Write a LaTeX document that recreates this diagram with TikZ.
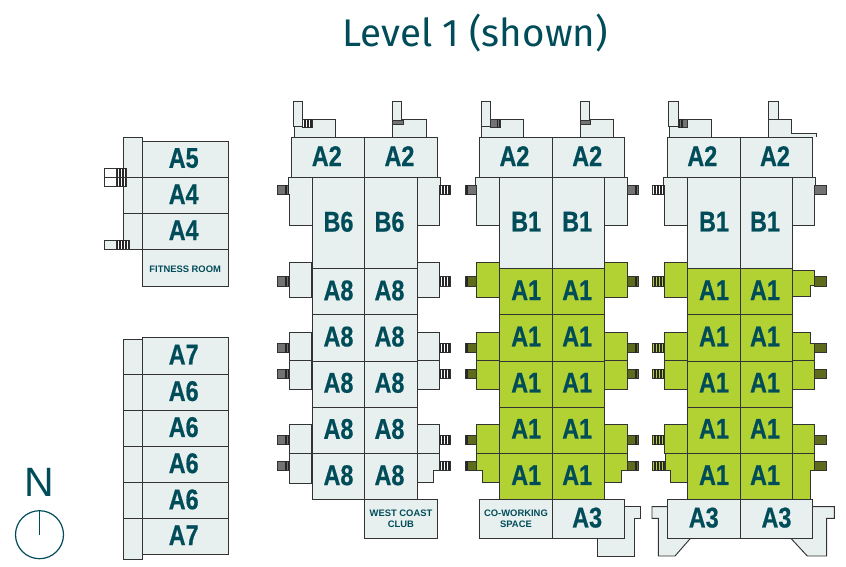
\documentclass[tikz,border=0pt]{standalone}
\usepackage{fontspec}
\setmainfont{Fira Sans}
\newfontfamily\cellfont[FakeStretch=0.82,BoldFeatures={FakeBold=0.6}]{Liberation Sans}
\newfontfamily\smallfont{Liberation Sans}
\definecolor{roomfill}{HTML}{E8F0EF}
\definecolor{suitefill}{HTML}{B2D234}
\definecolor{olive}{HTML}{5F6B1C}
\definecolor{inkteal}{HTML}{004C59}

% x, y, width, height, fill, stripe offsets
\newcommand{\hatch}[6]{
    \draw[outline,fill=#5] (#1,#2) rectangle ++(#3,#4);
    \foreach \i in {#6} {\draw[stripe] (#1+\i,#2) -- ++(0,#4);}
}
\newcommand{\balc}[4]{\hatch{#1}{#2}{11.5}{9.4}{#3}{#4}}
% name, x, y, width, height, style, text
\newcommand{\room}[7]{
    \node[cell,minimum width=#4pt,minimum height=#5pt,#6] (#1) at (#2,#3) {#7};
}
% wings that all three towers share
\newcommand{\wings}[1]{
    \draw[outline,fill=roomfill] (311.7,177) -- (288,177) -- (288,194.7) -- (289,194.7) -- (289,225.7) -- (311.7,225.7);
    \draw[outline,fill=roomfill] (416.7,177) -- (440.2,177) -- (440.2,194.7) -- (439.3,194.7) -- (439.3,225.7) -- (416.7,225.7);
    \draw[outline,fill=#1] (289,262.3) rectangle (311.7,297);
    \draw[outline,fill=#1] (289,332.3) rectangle (311.7,360.7);
    \draw[outline,fill=#1] (289,360.7) rectangle (311.7,389.3);
    \draw[outline,fill=#1] (416.7,360.7) rectangle (439.3,389.3);
    \draw[outline,fill=#1] (289,424.7) rectangle (311.7,453);
}
% top label, row label, row style
\newcommand{\tower}[3]{
    \room{al}{291.3}{137.3}{73}{39.7}{roomcell,nudge}{A2}
    \room{ar}{364.3}{137.3}{72.4}{39.7}{roomcell,nudge}{A2}
    \room{bl}{311.7}{177}{52.6}{91.3}{roomcell}{#1}
    \room{br}{364.3}{177}{52.4}{91.3}{roomcell,nudge}{#1}
    \foreach \y/\h/\n in {268.3/46/p,314.3/46.4/q,360.7/46/r,406.7/46.3/s,453/46.3/t} {
        \room{\n l}{311.7}{\y}{52.6}{\h}{#3}{#2}
        \room{\n r}{364.3}{\y}{52.4}{\h}{#3,nudge}{#2}
    }
}
% left room on the roof, then the right one
\newcommand{\roofleft}[3]{
    \draw[outline,fill=roomfill] (294,137.3) |- (335.7,119.3) -- (335.7,137.3);
    \draw[outline,fill=roomfill] (293.3,101.3) rectangle (302.9,126.3);
    \hatch{302.9}{119.3}{#1}{8.3}{#2}{#3}
}
\newcommand{\roofright}{
    \draw[outline,fill=roomfill] (392.3,137.3) |- (426.2,119.3) -- (426.2,137.3);
    \draw[outline,fill=roomfill] (392.3,101.3) rectangle (401.6,124.7);
    \draw[outline,fill=black!55] (392.3,120) rectangle (403,124.7);
}

\begin{document}
\begin{tikzpicture}[x=1pt,y=-1pt]
\tikzset{
    outline/.style={draw=black!80,line width=0.95pt,line join=miter},
    stripe/.style={draw=black!85,line width=0.6pt},
    cell/.style={outline,anchor=north west,inner sep=0pt,text=inkteal,
                 font=\fontsize{28.5}{28.5}\cellfont\bfseries},
    lift/.style={execute at end node={\rule[-3pt]{0pt}{3pt}}},
    roomcell/.style={fill=roomfill,lift},
    suitecell/.style={fill=suitefill,lift},
    nudge/.style={execute at end node={\kern3pt}},
    notecell/.style={fill=roomfill,font=\fontsize{9.4}{11}\smallfont\bfseries,align=center,
                     execute at begin node={\rule{0pt}{10pt}}},
    wingsuite/.style={outline,fill=suitefill},
    wingroom/.style={outline,fill=roomfill}
}
\useasboundingbox (0,0) rectangle (846,566);

\node[text=inkteal,font=\fontsize{38.5}{38.5}\selectfont] (title) at (475,33) {Level 1 (shown)};

% compass
\node[text=inkteal,font=\fontsize{41}{41}\smallfont] (north) at (39.5,482) {N};
\node[draw=inkteal,circle,line width=1.2pt,minimum size=48pt,inner sep=0pt] (dial) at (39.5,534.7) {};
\draw[draw=inkteal,line width=1.2pt] (dial.center) -- (dial.north);

% upper left block
\room{stripa}{123.3}{137.3}{18.4}{40}{roomcell}{}
\room{stripb}{123.3}{177.3}{18.4}{36}{roomcell}{}
\room{stripc}{123.3}{213.3}{18.4}{36}{roomcell}{}
\room{fivea}{141.7}{140.7}{86}{36.6}{roomcell,nudge}{A5}
\room{foura}{141.7}{177.3}{86}{36}{roomcell,nudge}{A4}
\room{fourb}{141.7}{213.3}{86}{36}{roomcell,nudge}{A4}
\room{fitness}{141.7}{249.3}{86}{36.4}{notecell}{FITNESS ROOM}
\draw[outline,fill=white] (104.7,168) rectangle (116,186.7);
\draw[outline] (104.7,177.3) -- (116,177.3);
\hatch{116}{168}{10.7}{18.7}{white}{1.5,3,...,10}
\draw[outline] (116,177.3) -- (126.7,177.3);
\draw[outline,fill=roomfill] (104.7,240) rectangle (116,249.3);
\hatch{116}{240}{13}{9.3}{white}{1.5,3,...,12}

% lower left block
\room{stripd}{123.3}{339}{18.4}{35}{roomcell}{}
\room{stripe}{123.3}{374}{18.4}{36}{roomcell}{}
\room{stripf}{123.3}{410}{18.4}{36}{roomcell}{}
\room{stripg}{123.3}{446}{18.4}{36.3}{roomcell}{}
\room{striph}{123.3}{482.3}{18.4}{36}{roomcell}{}
\room{stripi}{123.3}{518.3}{18.4}{40.4}{roomcell}{}
\room{sevena}{141.7}{337.3}{86}{36.7}{roomcell,nudge}{A7}
\room{sixa}{141.7}{374}{86}{36}{roomcell,nudge}{A6}
\room{sixb}{141.7}{410}{86}{36}{roomcell,nudge}{A6}
\room{sixc}{141.7}{446}{86}{36.3}{roomcell,nudge}{A6}
\room{sixd}{141.7}{482.3}{86}{36}{roomcell,nudge}{A6}
\room{sevenb}{141.7}{518.3}{86}{36}{roomcell,nudge}{A7}

% first tower
\begin{scope}[name prefix=one-]
\roofleft{9.8}{white}{1,2.5,...,9}
\roofright
\wings{roomfill}
\draw[wingroom] (416.7,262.3) rectangle (439.3,297);
\draw[wingroom] (416.7,332.3) rectangle (439.3,360.7);
\draw[wingroom] (416.7,424.7) rectangle (439.3,453);
\draw[wingroom] (289,453) rectangle (311.7,483.3);
\draw[wingroom] (416.7,453) -- (439.3,453) -- (439.3,470.3) -- (433.7,470.3) -- (433.7,482.3) -- (416.7,482.3);
\foreach \y in {185.3,276.7,343.3,369,435.3,461} {
    \balc{277.3}{\y}{black!55}{7.5,9,10.5}
    \balc{439.3}{\y}{white}{1,2.5,...,11}
}
\tower{B6}{A8}{roomcell}
\room{club}{364.3}{499.3}{72.4}{38.7}{notecell}{WEST COAST\\CLUB}
\end{scope}

% second tower
\begin{scope}[xshift=187.7pt,name prefix=two-]
\roofleft{9.5}{black!55}{7,8.5}
\roofright
\wings{suitefill}
\draw[wingsuite] (416.7,262.3) rectangle (439.3,297);
\draw[wingsuite] (416.7,332.3) rectangle (439.3,360.7);
\draw[wingsuite] (416.7,424.7) rectangle (439.3,453);
\draw[wingsuite] (311.7,453) -- (289,453) -- (289,470.3) -- (295,470.3) -- (295,482.3) -- (311.7,482.3);
\draw[wingsuite] (416.7,453) -- (439.3,453) -- (439.3,470.3) -- (434,470.3) -- (434,482.3) -- (416.7,482.3);
\foreach \y in {276.7,343.3,369,435.3,461} {
    \balc{277.3}{\y}{olive}{1,2.6}
    \balc{439.3}{\y}{olive}{8,9.6}
}
\balc{277.3}{185.3}{black!55}{1,2.6}
\balc{439.3}{185.3}{black!55}{8,9.6}
\draw[wingroom] (436.6,506.7) -- (452.3,506.7) -- (452.3,518.3) -- (446.3,518.3) -- (446.3,556) -- (409.6,556) -- (409.6,537.7);
\tower{B1}{A1}{suitecell}
\room{coworking}{291.3}{499.3}{73}{38.4}{notecell}{CO-WORKING\\SPACE}
\room{threea}{364.3}{499.3}{72.4}{38.4}{roomcell,nudge}{A3}
\end{scope}

% third tower
\begin{scope}[xshift=375.5pt,name prefix=three-]
\roofleft{9.2}{black!55}{1,2.6,4.2}
\draw[wingroom] (392.8,137.3) |- (415.8,119.3) -- (415.8,133.3) -- (440.5,133.3) -- (440.5,137.3);
\draw[wingroom] (392.8,101.3) rectangle (402.8,119.3);
\wings{suitefill}
\draw[wingsuite] (416.7,270.7) -- (439.3,270.7) -- (439.3,285) -- (434.8,285) -- (434.8,296.7) -- (416.7,296.7);
\draw[wingsuite] (416.7,332.3) -- (434.8,332.3) -- (434.8,343.3) -- (439.3,343.3) -- (439.3,360.7) -- (416.7,360.7);
\draw[wingsuite] (416.7,424.7) rectangle (439.3,453);
\draw[wingsuite] (311.7,453) -- (289.5,453) -- (289.5,470.3) -- (294.8,470.3) -- (294.8,482.3) -- (311.7,482.3);
\draw[wingsuite] (416.7,453) -- (439.3,453) -- (439.3,470.3) -- (434.8,470.3) -- (434.8,499.3) -- (416.7,499.3);
\foreach \y in {276.7,343.3,369,435.3,461} {
    \balc{277.3}{\y}{suitefill}{1,2.5,...,10}
    \balc{439.3}{\y}{olive}{}
}
\balc{277.3}{185.3}{white}{1,2.5,...,10}
\balc{439.3}{185.3}{black!55}{}
\draw[wingroom] (291.5,506.7) -- (276.5,506.7) -- (276.5,518.3) -- (282.8,518.3) -- (282.8,556) -- (299.5,556) -- (315.5,537.7);
\draw[wingroom] (436.8,506.7) -- (458.8,506.7) -- (458.8,518.3) -- (451.2,518.3) -- (451.2,556) -- (431.8,556) -- (414.8,537.7);
\tower{B1}{A1}{suitecell}
\room{threeb}{291.3}{499.3}{73}{38.4}{roomcell}{A3}
\room{threec}{364.3}{499.3}{72.4}{38.4}{roomcell}{A3}
\end{scope}
\end{tikzpicture}
\end{document}
